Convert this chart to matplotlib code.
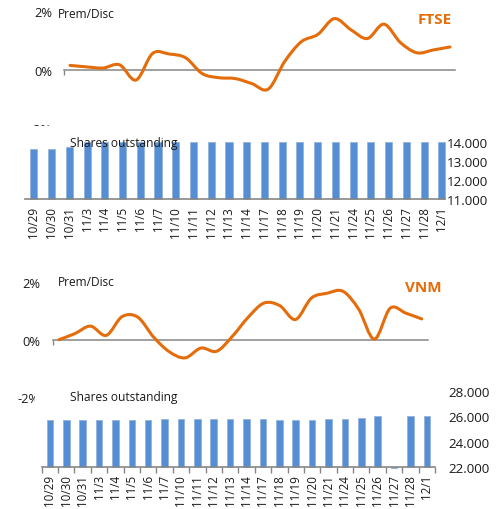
import numpy as np
import matplotlib
matplotlib.use("Agg")
import matplotlib.pyplot as plt
from matplotlib.path import Path
from matplotlib.patches import PathPatch, Rectangle

plt.rcParams['font.family'] = ['Open Sans', 'DejaVu Sans']

# ---------------- data ----------------
dates = ["10/29", "10/30", "10/31", "11/3", "11/4", "11/5", "11/6", "11/7",
         "11/10", "11/11", "11/12", "11/13", "11/14", "11/17", "11/18", "11/19",
         "11/20", "11/21", "11/24", "11/25", "11/26", "11/27", "11/28", "12/1"]

ftse_prem = [0.14, 0.09, 0.05, 0.16, -0.36, 0.55, 0.53, 0.40, -0.14, -0.28,
             -0.31, -0.48, -0.67, 0.28, 0.95, 1.20, 1.74, 1.36, 1.06, 1.55,
             0.92, 0.57, 0.67, 0.77]
ftse_shares = [13660, 13660, 13750, 14000, 14000, 14000, 14000, 14000,
               14000, 14000, 14000, 14000, 14000, 14000, 14000, 14000,
               14000, 14000, 14000, 14000, 14000, 14000, 14000, 14000]

vnm_prem = [0.00, 0.21, 0.47, 0.15, 0.80, 0.78, 0.09, -0.42, -0.63, -0.29,
            -0.40, 0.12, 0.78, 1.27, 1.18, 0.70, 1.44, 1.61, 1.68, 1.06,
            0.02, 1.09, 0.92, 0.72]
vnm_shares = [25740, 25740, 25740, 25740, 25740, 25740, 25740, 25810,
              25810, 25810, 25810, 25810, 25810, 25810, 25680, 25680,
              25680, 25810, 25810, 25890, 26000, 21900, 26000, 26000]

prem_ticks = [-2, 0, 2]
prem_labels = ["-2%", "0%", "2%"]
ftse_share_ticks = [11000, 12000, 13000, 14000]
vnm_share_ticks = [22000, 24000, 26000, 28000]

ORANGE = '#E46C0A'
BLUE = '#558ED5'
BLUE_EDGE = '#95B3D7'
GRAY = '#868686'
TXT = '#1a1a1a'

W, H = 499, 510
fig = plt.figure(figsize=(W / 100, H / 100), dpi=100)


def rect(l, t, r, b):
    return [l / W, 1 - b / H, (r - l) / W, (b - t) / H]


def smooth_path(xs, ys):
    pts = np.column_stack([xs, ys]).astype(float)
    ext = np.vstack([pts[0], pts, pts[-1]])
    verts = [pts[0]]
    codes = [Path.MOVETO]
    for i in range(len(pts) - 1):
        p0, p1, p2, p3 = ext[i], ext[i + 1], ext[i + 2], ext[i + 3]
        verts += [p1 + (p2 - p0) / 6, p2 - (p3 - p1) / 6, p2]
        codes += [Path.CURVE4] * 3
    return Path(verts, codes)


def fmt_thousands(v):
    return f"{int(v):,}".replace(",", ".")


def line_panel(box, xlim, values, pad):
    ax = fig.add_axes(rect(*box))
    ax.set_xlim(*xlim)
    ax.set_ylim(-2, 2)
    x = np.arange(len(values))
    ax.add_patch(PathPatch(smooth_path(x, values), facecolor='none',
                           edgecolor=ORANGE, lw=2.2, capstyle='round',
                           joinstyle='round', zorder=3))
    for s in ['left', 'right', 'top']:
        ax.spines[s].set_visible(False)
    ax.spines['bottom'].set_position(('data', 0))
    ax.spines['bottom'].set_color(GRAY)
    ax.spines['bottom'].set_linewidth(1.1)
    ax.set_yticks(prem_ticks)
    ax.set_yticklabels(prem_labels)
    ax.tick_params(axis='y', length=0, pad=pad, labelsize=9.3, labelcolor=TXT)
    ax.set_xticks([xlim[0]])
    ax.tick_params(axis='x', length=3.5, width=1, direction='out', color=GRAY,
                   labelbottom=False)
    ax.patch.set_alpha(0)
    return ax


def bar_panel(box, xlim, values, ticks, base, label_pad, ylab_pad, minor_ticks):
    ax = fig.add_axes(rect(*box), zorder=1)
    x = np.arange(len(values))
    heights = np.array(values, dtype=float) - base
    ax.bar(x, heights, bottom=base, width=0.4, color=BLUE, edgecolor=BLUE_EDGE,
           linewidth=0.6, clip_on=False, zorder=2)
    ax.set_xlim(*xlim)
    ax.set_ylim(ticks[0], ticks[-1])
    ax.set_yticks(ticks)
    ax.set_yticklabels([fmt_thousands(t) for t in ticks])
    ax.yaxis.tick_right()
    ax.tick_params(axis='y', length=0, pad=ylab_pad, labelsize=9.6, labelcolor=TXT)
    ax.set_xticks(x)
    ax.set_xticklabels(dates, rotation=90)
    ax.tick_params(axis='x', which='major', length=0, pad=label_pad,
                   labelsize=8.4, labelcolor=TXT)
    if minor_ticks:
        ax.set_xticks(np.arange(-0.5, len(values), 1.0), minor=True)
        ax.tick_params(axis='x', which='minor', length=4, width=1,
                       direction='out', color=GRAY)
    for s in ['left', 'right', 'top']:
        ax.spines[s].set_visible(False)
    ax.spines['bottom'].set_color(GRAY)
    ax.spines['bottom'].set_linewidth(1.2)
    ax.spines['bottom'].set_zorder(3)
    return ax


# ---------------- FTSE ----------------
ax1 = line_panel((64, 12, 455, 129), (-0.363, 23.30), ftse_prem, 8.6)
fig.add_artist(Rectangle((0, 1 - 260 / H), 1, (260 - 127) / H,
                         transform=fig.transFigure, facecolor='white',
                         edgecolor='none', zorder=0.5))
ax2 = bar_panel((25, 143.3, 445, 200), (-0.5, 23.18), ftse_shares,
                ftse_share_ticks, 11000, 5, 1.5, False)
ax2.text((70 - 25) / 420, (200 - 143) / 56.7, "Shares outstanding",
         transform=ax2.transAxes, ha='left', va='center', fontsize=8.6,
         color=TXT, zorder=6)
fig.text(58 / W, 1 - 14 / H, "Prem/Disc", ha='left', va='center',
         fontsize=8.6, color=TXT)
fig.text(452 / W, 1 - 20.5 / H, "FTSE", ha='right', va='center',
         fontsize=11, fontweight='bold', color=ORANGE)

# ---------------- VNM ----------------
ax3 = line_panel((53.3, 283, 428, 398.4), (-0.361, 23.40), vnm_prem, 9.6)
fig.add_artist(Rectangle((35 / W, 0), 1, 1 - 385 / H,
                         transform=fig.transFigure, facecolor='white',
                         edgecolor='none', zorder=0.5))
ax4 = bar_panel((41.7, 392, 435, 468), (-0.5, 23.5), vnm_shares,
                vnm_share_ticks, 22000, 5, 9.4, True)
ax4.text((70 - 41.7) / 393.3, (468 - 398) / 76, "Shares outstanding",
         transform=ax4.transAxes, ha='left', va='center', fontsize=8.6,
         color=TXT, zorder=6)
fig.text(57.5 / W, 1 - 283 / H, "Prem/Disc", ha='left', va='center',
         fontsize=8.6, color=TXT)
fig.text(441.7 / W, 1 - 288 / H, "VNM", ha='right', va='center',
         fontsize=11, fontweight='bold', color=ORANGE)

fig.savefig("out.png", dpi=100)
